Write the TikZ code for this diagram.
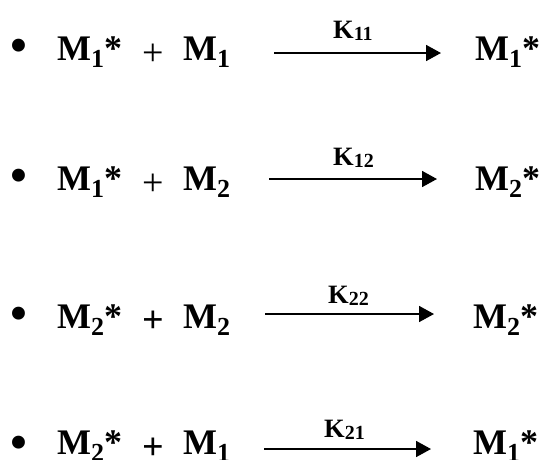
\documentclass[tikz,border=0pt]{standalone}
\usepackage{fontspec}
\setmainfont{Liberation Serif}
\usetikzlibrary{arrows.meta}
\newcommand\msb[1]{\raisebox{-7pt}{\fontsize{26}{26}\selectfont #1}}
\newcommand\ksb[1]{\raisebox{-2.5pt}{\fontsize{20}{20}\selectfont #1}}
\tikzset{
  term/.style={inner sep=0pt, anchor=base west, font=\fontsize{36}{40}\selectfont\bfseries},
  plusr/.style={inner sep=0pt, anchor=center, font=\fontsize{38}{40}\selectfont},
  plusb/.style={inner sep=0pt, anchor=center, font=\fontsize{38}{40}\selectfont\bfseries},
  klabel/.style={inner sep=0pt, anchor=base west, font=\fontsize{26.5}{28}\selectfont\bfseries},
  bul/.style={inner sep=0pt, anchor=center, font=\fontsize{54}{56}\selectfont},
  rxn/.style={line width=1.7pt, -{Triangle[length=15pt,width=16pt]}}
}
\begin{document}
\begin{tikzpicture}[x=1pt,y=-1pt]
\useasboundingbox (0,0) rectangle (546,459);
% row 1
\node[bul] (b1) at (18.5,51.5) {•};
\node[term] (l1) at (57,60) {M\msb{1}*};
\node[plusr] (p1) at (153,55) {+};
\node[term] (m1) at (183,60) {M\msb{1}};
\coordinate (s1) at (274,53);
\coordinate (e1) at (441,53);
\draw[rxn] (s1) -- (e1);
\node[klabel] (k1) at (333,38) {K\ksb{11}};
\node[term] (r1) at (475,60) {M\msb{1}*};
% row 2
\node[bul] (b2) at (18.5,181) {•};
\node[term] (l2) at (57,190) {M\msb{1}*};
\node[plusr] (p2) at (153,185) {+};
\node[term] (m2) at (183,190) {M\msb{2}};
\coordinate (s2) at (269,179);
\coordinate (e2) at (437,179);
\draw[rxn] (s2) -- (e2);
\node[klabel] (k2) at (333,165) {K\ksb{12}};
\node[term] (r2) at (475,190) {M\msb{2}*};
% row 3
\node[bul] (b3) at (18.5,319) {•};
\node[term] (l3) at (57,328) {M\msb{2}*};
\node[plusb] (p3) at (153,322) {+};
\node[term] (m3) at (183,328) {M\msb{2}};
\coordinate (s3) at (265,314);
\coordinate (e3) at (434,314);
\draw[rxn] (s3) -- (e3);
\node[klabel] (k3) at (328,303) {K\ksb{22}};
\node[term] (r3) at (473,328) {M\msb{2}*};
% row 4
\node[bul] (b4) at (18.5,448.5) {•};
\node[term] (l4) at (57,454) {M\msb{2}*};
\node[plusb] (p4) at (153,449) {+};
\node[term] (m4) at (183,454) {M\msb{1}};
\coordinate (s4) at (264,449);
\coordinate (e4) at (431,449);
\draw[rxn] (s4) -- (e4);
\node[klabel] (k4) at (324,437) {K\ksb{21}};
\node[term] (r4) at (473,454) {M\msb{1}*};
\end{tikzpicture}
\end{document}
